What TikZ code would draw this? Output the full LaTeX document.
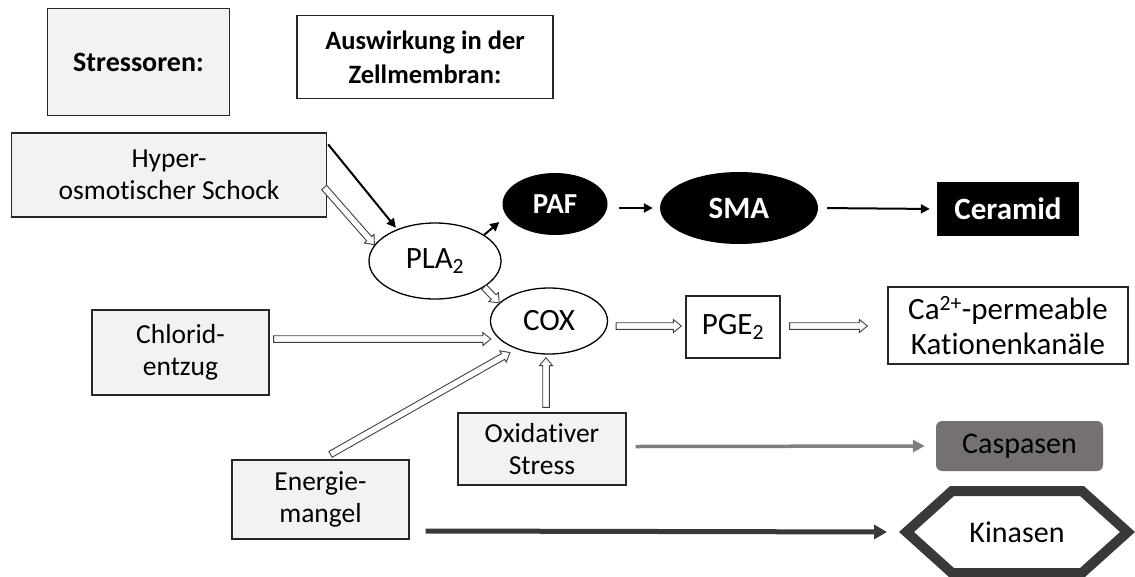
\documentclass[tikz,border=0pt]{standalone}
\usepackage{fontspec}
\setmainfont{Carlito}[Ligatures=NoCommon]
\usetikzlibrary{arrows.meta,calc,shapes.geometric,shapes.symbols}
\definecolor{boxgray}{HTML}{F2F2F2}
\definecolor{caspgray}{HTML}{767171}
\definecolor{kingray}{HTML}{3B3838}
\definecolor{arrgray}{HTML}{7F7F7F}
\definecolor{hollowline}{HTML}{404040}
\newcommand{\hollowarrow}[2]{%
  \path (#1) coordinate (hastart) (#2) coordinate (haend);
  \draw[hollow] let \p1=($(haend)-(hastart)$), \n1={atan2(\y1,\x1)}, \n2={veclen(\x1,\y1)} in
    [shift={(hastart)}, rotate=\n1]
    (0,-3.3) -- ({\n2-8},-3.3) -- ({\n2-8},-6.5) -- (\n2,0) -- ({\n2-8},6.5) -- ({\n2-8},3.3) -- (0,3.3) -- cycle;
}
\begin{document}
\begin{tikzpicture}[x=1pt,y=-1pt,
  sbox/.style={draw=black!85, line width=1.3pt, fill=boxgray, align=center, inner sep=0pt,
               font=\fontsize{27.5}{32}\selectfont},
  wbox/.style={draw=black!85, line width=1.3pt, fill=white, align=center, inner sep=0pt},
  rtext/.style={font=\fontsize{31}{35}\selectfont},
  ell/.style={ellipse, draw=black, line width=1.3pt, fill=white, inner sep=0pt, rtext},
  bell/.style={ellipse, fill=black, text=white, inner sep=0pt},
  blk/.style={line width=2pt, -{Triangle[length=9pt,width=9pt]}},
  hollow/.style={draw=hollowline, line width=0.9pt, fill=white, line join=miter}
  ]
\useasboundingbox (0,0) rectangle (1135,576);

% headers
\node[sbox, minimum width=182, minimum height=107, font=\fontsize{28}{34}\selectfont\bfseries] (stress) at (138.5,62) {Stressoren:};
\node[wbox, minimum width=256, minimum height=83, font=\fontsize{26.5}{34}\selectfont\bfseries] (ausw) at (425,57) {Auswirkung in der\\Zellmembran:};

% stressors
\node[sbox, minimum width=315, minimum height=84] (hyper) at (169,175) {Hyper-\\osmotischer Schock};
\node[sbox, minimum width=177, minimum height=85] (chl) at (180.5,352.5) {Chlorid-\\entzug};
\node[sbox, minimum width=177, minimum height=79] (energie) at (320.5,499.5) {Energie-\\mangel};
\node[sbox, minimum width=168, minimum height=72] (oxi) at (542,449) {Oxidativer\\Stress};

% membrane effects
\node[ell, minimum width=132, minimum height=76] (pla) at (435,261) {PLA\textsubscript{2}};
\node[ell, minimum width=117, minimum height=66] (cox) at (549,321) {COX};
\node[bell, minimum width=105, minimum height=62, font=\fontsize{29}{34}\selectfont\bfseries] (paf) at (555,204) {PAF};
\node[bell, minimum width=158, minimum height=72, font=\fontsize{31}{35}\selectfont\bfseries] (sma) at (739,208) {SMA};
\node[fill=black, text=white, minimum width=142, minimum height=54, inner sep=0pt, font=\fontsize{31}{35}\selectfont\bfseries] (ceram) at (1008,209) {Ceramid};
\node[wbox, rtext, minimum width=94, minimum height=62] (pge) at (733,327) {PGE\textsubscript{2}};
\node[wbox, rtext, minimum width=240, minimum height=77] (ca) at (1008,325.5) {Ca\textsuperscript{2+}-permeable\\Kationenkanäle};
\node[fill=caspgray, rounded corners=6pt, minimum width=167, minimum height=50, inner sep=0pt, font=\fontsize{30}{35}\selectfont] (casp) at (1019.5,446) {Caspasen};
\node[signal, signal to=west and east, signal pointer angle=84, draw=kingray, line width=10pt, fill=white,
      minimum width=221, minimum height=82, inner sep=0pt, font=\fontsize{30}{35}\selectfont] (kin) at (1017,532) {Kinasen};

% black arrows
\draw[blk, shorten >=2pt] ($(hyper.north east)+(1,12)$) -- (pla.140);
\draw[blk] (pla.28) -- ($(paf.west)+(-3,18)$);
\draw[blk, shorten <=11pt, shorten >=7pt] (paf.east |- sma.west) -- (sma.west);
\draw[blk, shorten <=9pt, shorten >=7pt] (sma.east) -- (ceram.west);

% grey arrows
\draw[line width=3.5pt, draw=arrgray, -{Triangle[length=12pt,width=12pt]}, shorten >=11pt]
  ($(oxi.east)+(9,-2.5)$) -- (casp.west);
\draw[line width=5pt, draw=kingray, -{Triangle[length=13pt,width=14pt]}, shorten >=12pt]
  ($(energie.east)+(16,31.5)$) -- (kin.west);

% hollow arrows
\hollowarrow{$(hyper.east)+(-3,12.5)$}{pla.165}
\hollowarrow{pla.-28}{cox.160}
\hollowarrow{$(chl.east)+(4,-13.5)$}{$(cox.west)+(1,18)$}
\hollowarrow{$(energie.north)+(10,-5)$}{$(cox.219)+(-5,4)$}
\hollowarrow{$(oxi.north)+(4,-5)$}{$(cox.south)+(-3,3)$}
\hollowarrow{$(cox.east)+(8,5)$}{$(pge.west)+(-4,-1)$}
\hollowarrow{$(pge.east)+(9,-1)$}{$(ca.west)+(-20,0.5)$}
\end{tikzpicture}
\end{document}
